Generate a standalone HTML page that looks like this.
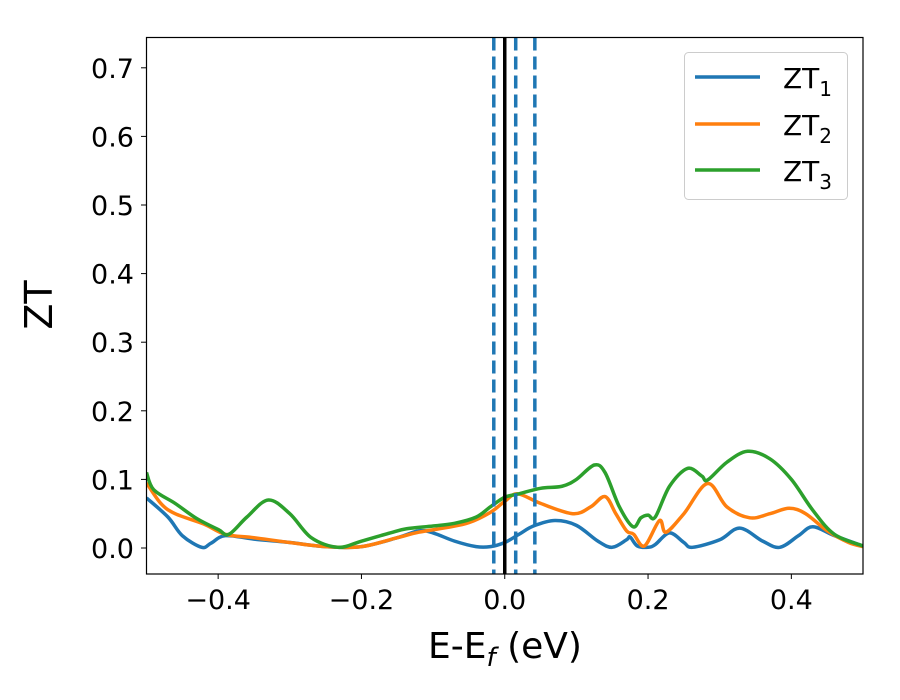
<!DOCTYPE html>
<html><head><meta charset="utf-8"><style>
body{margin:0;background:#fff;}
svg{display:block;font-family:"DejaVu Sans","Liberation Sans",sans-serif;}
</style></head><body>
<svg id="chart" width="900" height="700" viewBox="0 0 900 700">
<rect x="0" y="0" width="900" height="700" fill="#fff"/>
<g id="plot"></g>
<rect x="146.5" y="37.5" width="716.5" height="536.5" fill="none" stroke="#000" stroke-width="1.2"/>
<g id="ticks"></g>
<text x="52" y="305" font-size="38" text-anchor="middle" transform="rotate(-90 52 305)">ZT</text>
<text x="505" y="658" font-size="36" text-anchor="middle">E-E<tspan font-style="italic" font-size="26" dy="8">f</tspan><tspan dy="-8"> (eV)</tspan></text>
<g>
<rect x="684.5" y="52.5" width="163" height="147" rx="4" fill="#fff" stroke="#ccc" stroke-width="1"/>
<line x1="695" y1="77" x2="760" y2="77" stroke="#1f77b4" stroke-width="3.5"/>
<text x="783" y="88" font-size="28">ZT<tspan font-size="20" dy="8">1</tspan></text>
<line x1="695" y1="124" x2="760" y2="124" stroke="#ff7f0e" stroke-width="3.5"/>
<text x="783" y="135" font-size="28">ZT<tspan font-size="20" dy="8">2</tspan></text>
<line x1="695" y1="170" x2="760" y2="170" stroke="#2ca02c" stroke-width="3.5"/>
<text x="783" y="181" font-size="28">ZT<tspan font-size="20" dy="8">3</tspan></text>
</g>
</svg>
<script>
const xTicks=[-0.4,-0.2,0.0,0.2,0.4];
const xTickLabels=["\u22120.4","\u22120.2","0.0","0.2","0.4"];
const yTicks=[0,0.1,0.2,0.3,0.4,0.5,0.6,0.7];
const yTickLabels=["0.0","0.1","0.2","0.3","0.4","0.5","0.6","0.7"];
const zt1X=[-0.5,-0.47,-0.45,-0.423,-0.41,-0.39,-0.35,-0.3,-0.25,-0.2,-0.15,-0.12,-0.1,-0.07,-0.04,-0.02,0.0,0.02,0.04,0.07,0.1,0.13,0.15,0.17,0.175,0.185,0.2,0.21,0.23,0.25,0.262,0.3,0.328,0.36,0.384,0.41,0.43,0.46,0.5];
const zt1Y=[0.073,0.045,0.018,0.001,0.007,0.018,0.013,0.008,0.002,0.002,0.015,0.025,0.022,0.01,0.002,0.002,0.008,0.02,0.032,0.04,0.033,0.01,0.001,0.012,0.016,0.003,0.001,0.005,0.022,0.008,0.001,0.012,0.029,0.01,0.001,0.018,0.031,0.018,0.003];
const zt2X=[-0.5,-0.48,-0.46,-0.42,-0.39,-0.35,-0.3,-0.25,-0.2,-0.15,-0.12,-0.08,-0.05,-0.02,0.0,0.018,0.05,0.095,0.12,0.14,0.155,0.17,0.18,0.195,0.216,0.225,0.25,0.283,0.31,0.342,0.37,0.397,0.42,0.45,0.48,0.5];
const zt2Y=[0.095,0.065,0.05,0.035,0.02,0.015,0.008,0.002,0.002,0.015,0.023,0.03,0.037,0.052,0.068,0.079,0.065,0.05,0.06,0.075,0.05,0.025,0.02,0.003,0.04,0.023,0.05,0.094,0.06,0.044,0.05,0.058,0.05,0.025,0.008,0.002];
const zt3X=[-0.5,-0.49,-0.46,-0.43,-0.4,-0.385,-0.36,-0.33,-0.3,-0.27,-0.233,-0.2,-0.16,-0.137,-0.1,-0.07,-0.04,-0.02,0.0,0.02,0.05,0.08,0.1,0.125,0.14,0.16,0.179,0.19,0.2,0.21,0.23,0.255,0.275,0.283,0.31,0.339,0.37,0.4,0.43,0.46,0.5];
const zt3Y=[0.11,0.085,0.065,0.043,0.027,0.02,0.045,0.07,0.05,0.015,0.001,0.01,0.022,0.028,0.032,0.036,0.045,0.06,0.074,0.079,0.087,0.09,0.1,0.121,0.11,0.06,0.031,0.044,0.048,0.045,0.09,0.116,0.105,0.099,0.125,0.141,0.13,0.1,0.055,0.02,0.003];
const vDashed=[-0.0153,0.0153,0.042];
const vSolid=[0.0];

const X0=146.5,X1=863,Y0=548,PER=686;
function sx(v){return X0+(v+0.5)*(X1-X0);}
function sy(v){return Y0-v*PER;}
const NS="http://www.w3.org/2000/svg";
const plot=document.getElementById('plot');
const ticks=document.getElementById('ticks');

function smoothPath(xs,ys){
  const p=xs.map((x,i)=>[sx(x),sy(ys[i])]);
  let d="M"+p[0][0].toFixed(2)+","+p[0][1].toFixed(2);
  for(let i=0;i<p.length-1;i++){
    const a=p[i-1]||p[i],b=p[i],c=p[i+1],e=p[i+2]||p[i+1];
    const c1=[b[0]+(c[0]-a[0])/6,b[1]+(c[1]-a[1])/6];
    const c2=[c[0]-(e[0]-b[0])/6,c[1]-(e[1]-b[1])/6];
    d+=" C"+c1.map(v=>v.toFixed(2))+" "+c2.map(v=>v.toFixed(2))+" "+c[0].toFixed(2)+","+c[1].toFixed(2);
  }
  return d;
}
const clip=document.createElementNS(NS,'clipPath');clip.setAttribute('id','cp');
const cr=document.createElementNS(NS,'rect');cr.setAttribute('x',X0);cr.setAttribute('y',37.5);cr.setAttribute('width',X1-X0);cr.setAttribute('height',536.5);
clip.appendChild(cr);plot.appendChild(clip);
plot.setAttribute('clip-path','url(#cp)');

[[zt1X,zt1Y,'#1f77b4','zt1'],[zt2X,zt2Y,'#ff7f0e','zt2'],[zt3X,zt3Y,'#2ca02c','zt3']].forEach(s=>{
  const path=document.createElementNS(NS,'path');
  path.setAttribute('d',smoothPath(s[0],s[1]));
  path.setAttribute('fill','none');path.setAttribute('stroke',s[2]);path.setAttribute('stroke-width','3.5');
  path.setAttribute('stroke-linejoin','round');
  
  
  plot.appendChild(path);
});
vDashed.forEach(v=>{
  const l=document.createElementNS(NS,'line');
  l.setAttribute('x1',sx(v));l.setAttribute('x2',sx(v));l.setAttribute('y1',37.5);l.setAttribute('y2',574);
  l.setAttribute('stroke','#1f77b4');l.setAttribute('stroke-width','3.5');l.setAttribute('stroke-dasharray','13 6');
  
  
  plot.appendChild(l);
});
vSolid.forEach(v=>{
  const l=document.createElementNS(NS,'line');
  l.setAttribute('x1',sx(v));l.setAttribute('x2',sx(v));l.setAttribute('y1',37.5);l.setAttribute('y2',574);
  l.setAttribute('stroke','#000');l.setAttribute('stroke-width','3.5');
  
  
  plot.appendChild(l);
});
xTicks.forEach((v,i)=>{
  const l=document.createElementNS(NS,'line');
  l.setAttribute('x1',sx(v));l.setAttribute('x2',sx(v));l.setAttribute('y1',574);l.setAttribute('y2',579);l.setAttribute('stroke','#000');
  
  
  ticks.appendChild(l);
  const t=document.createElementNS(NS,'text');
  t.setAttribute('x',sx(v));t.setAttribute('y',609);t.setAttribute('font-size','27');t.setAttribute('text-anchor','middle');
  t.textContent=xTickLabels[i];
  
  
  ticks.appendChild(t);
});
yTicks.forEach((v,i)=>{
  const l=document.createElementNS(NS,'line');
  l.setAttribute('x1',141);l.setAttribute('x2',146.5);l.setAttribute('y1',sy(v));l.setAttribute('y2',sy(v));l.setAttribute('stroke','#000');
  
  
  ticks.appendChild(l);
  const t=document.createElementNS(NS,'text');
  t.setAttribute('x',134);t.setAttribute('y',sy(v)+10);t.setAttribute('font-size','27');t.setAttribute('text-anchor','end');
  t.textContent=yTickLabels[i];
  
  
  ticks.appendChild(t);
});
</script>
</body></html>
